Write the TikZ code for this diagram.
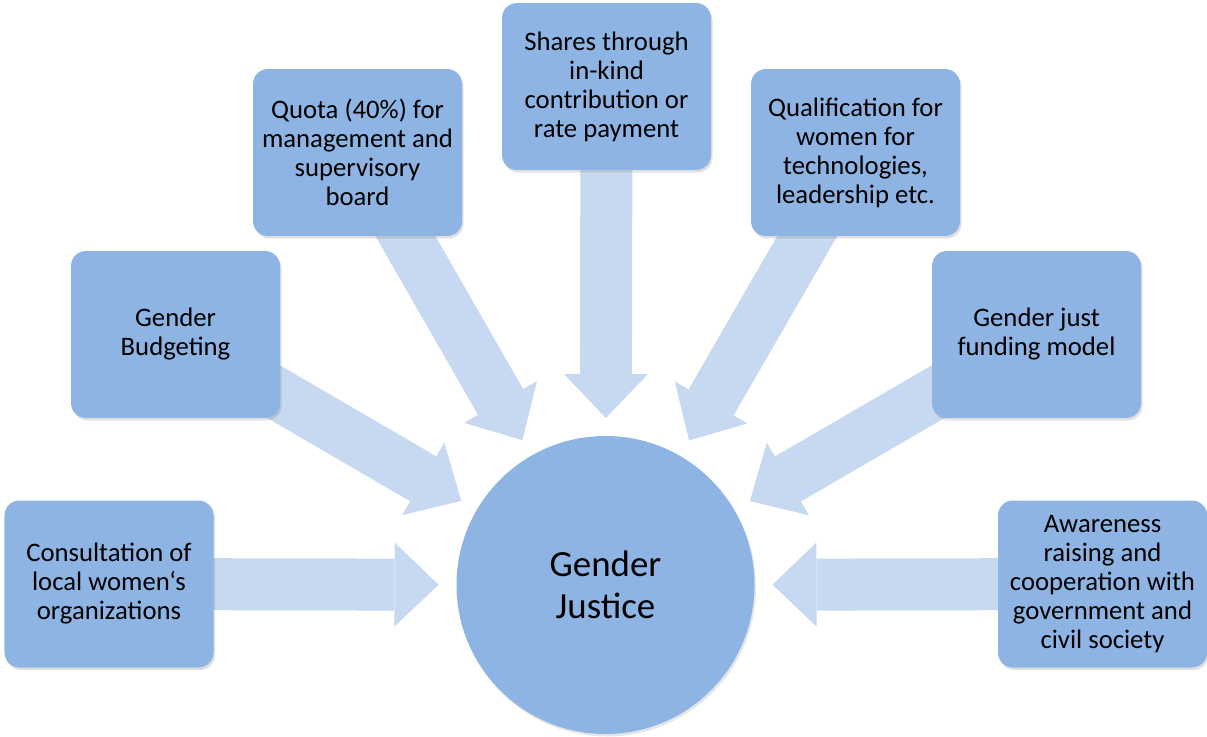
\documentclass[tikz,border=0pt]{standalone}
\usepackage{fontspec}
\setmainfont{Carlito}
\usetikzlibrary{arrows.meta,calc,shadows,backgrounds}

\definecolor{boxblue}{RGB}{142,180,227}
\definecolor{arrowblue}{RGB}{198,217,241}

\tikzset{
  measure/.style={rectangle, rounded corners=0.3cm, fill=boxblue,
    minimum width=4.18cm, minimum height=3.34cm, align=center,
    font=\fontsize{15.2}{16.5}\selectfont,
    drop shadow={opacity=0.25, shadow xshift=0.03cm, shadow yshift=-0.05cm}},
  goal/.style={circle, fill=boxblue, minimum size=5.96cm, align=center,
    font=\fontsize{21}{24}\selectfont,
    drop shadow={opacity=0.2, shadow xshift=0.03cm, shadow yshift=-0.05cm}},
  feed/.style={draw=arrowblue, line width=1.04cm,
    -{Triangle[width=1.68cm,length=0.88cm,line width=0pt]}}
}

\begin{document}
\begin{tikzpicture}
  \useasboundingbox (0,0) rectangle (24.14,14.72);

  % Centre
  \node[goal] (jus) at (12.11,3.02) {Gender\\Justice};

  % Measures
  \node[measure] (cons) at (2.18,3.04) {Consultation of\\local women‘s\\organizations};
  \node[measure] (budg) at (3.51,8.03) {Gender\\Budgeting};
  \node[measure] (quota) at (7.15,11.67) {Quota (40\%) for\\management and\\supervisory\\board};
  \node[measure] (shares) at (12.13,12.99) {Shares through\\in-kind\\contribution or\\rate payment};
  \node[measure] (qual) at (17.11,11.67) {Qualification for\\women for\\technologies,\\leadership etc.};
  \node[measure] (fund) at (20.73,8.03) {Gender just\\funding model};
  \node[measure] (aware) at (22.05,3.04) {Awareness\\raising and\\cooperation with\\government and\\civil society};

  % Block arrows behind the boxes
  \begin{pgfonlayer}{background}
    \foreach \src in {cons,budg,quota,shares,qual,fund,aware}
      \draw[feed] (\src.center) -- ($(jus.center)!3.34cm!(\src.center)$);
  \end{pgfonlayer}
\end{tikzpicture}
\end{document}
